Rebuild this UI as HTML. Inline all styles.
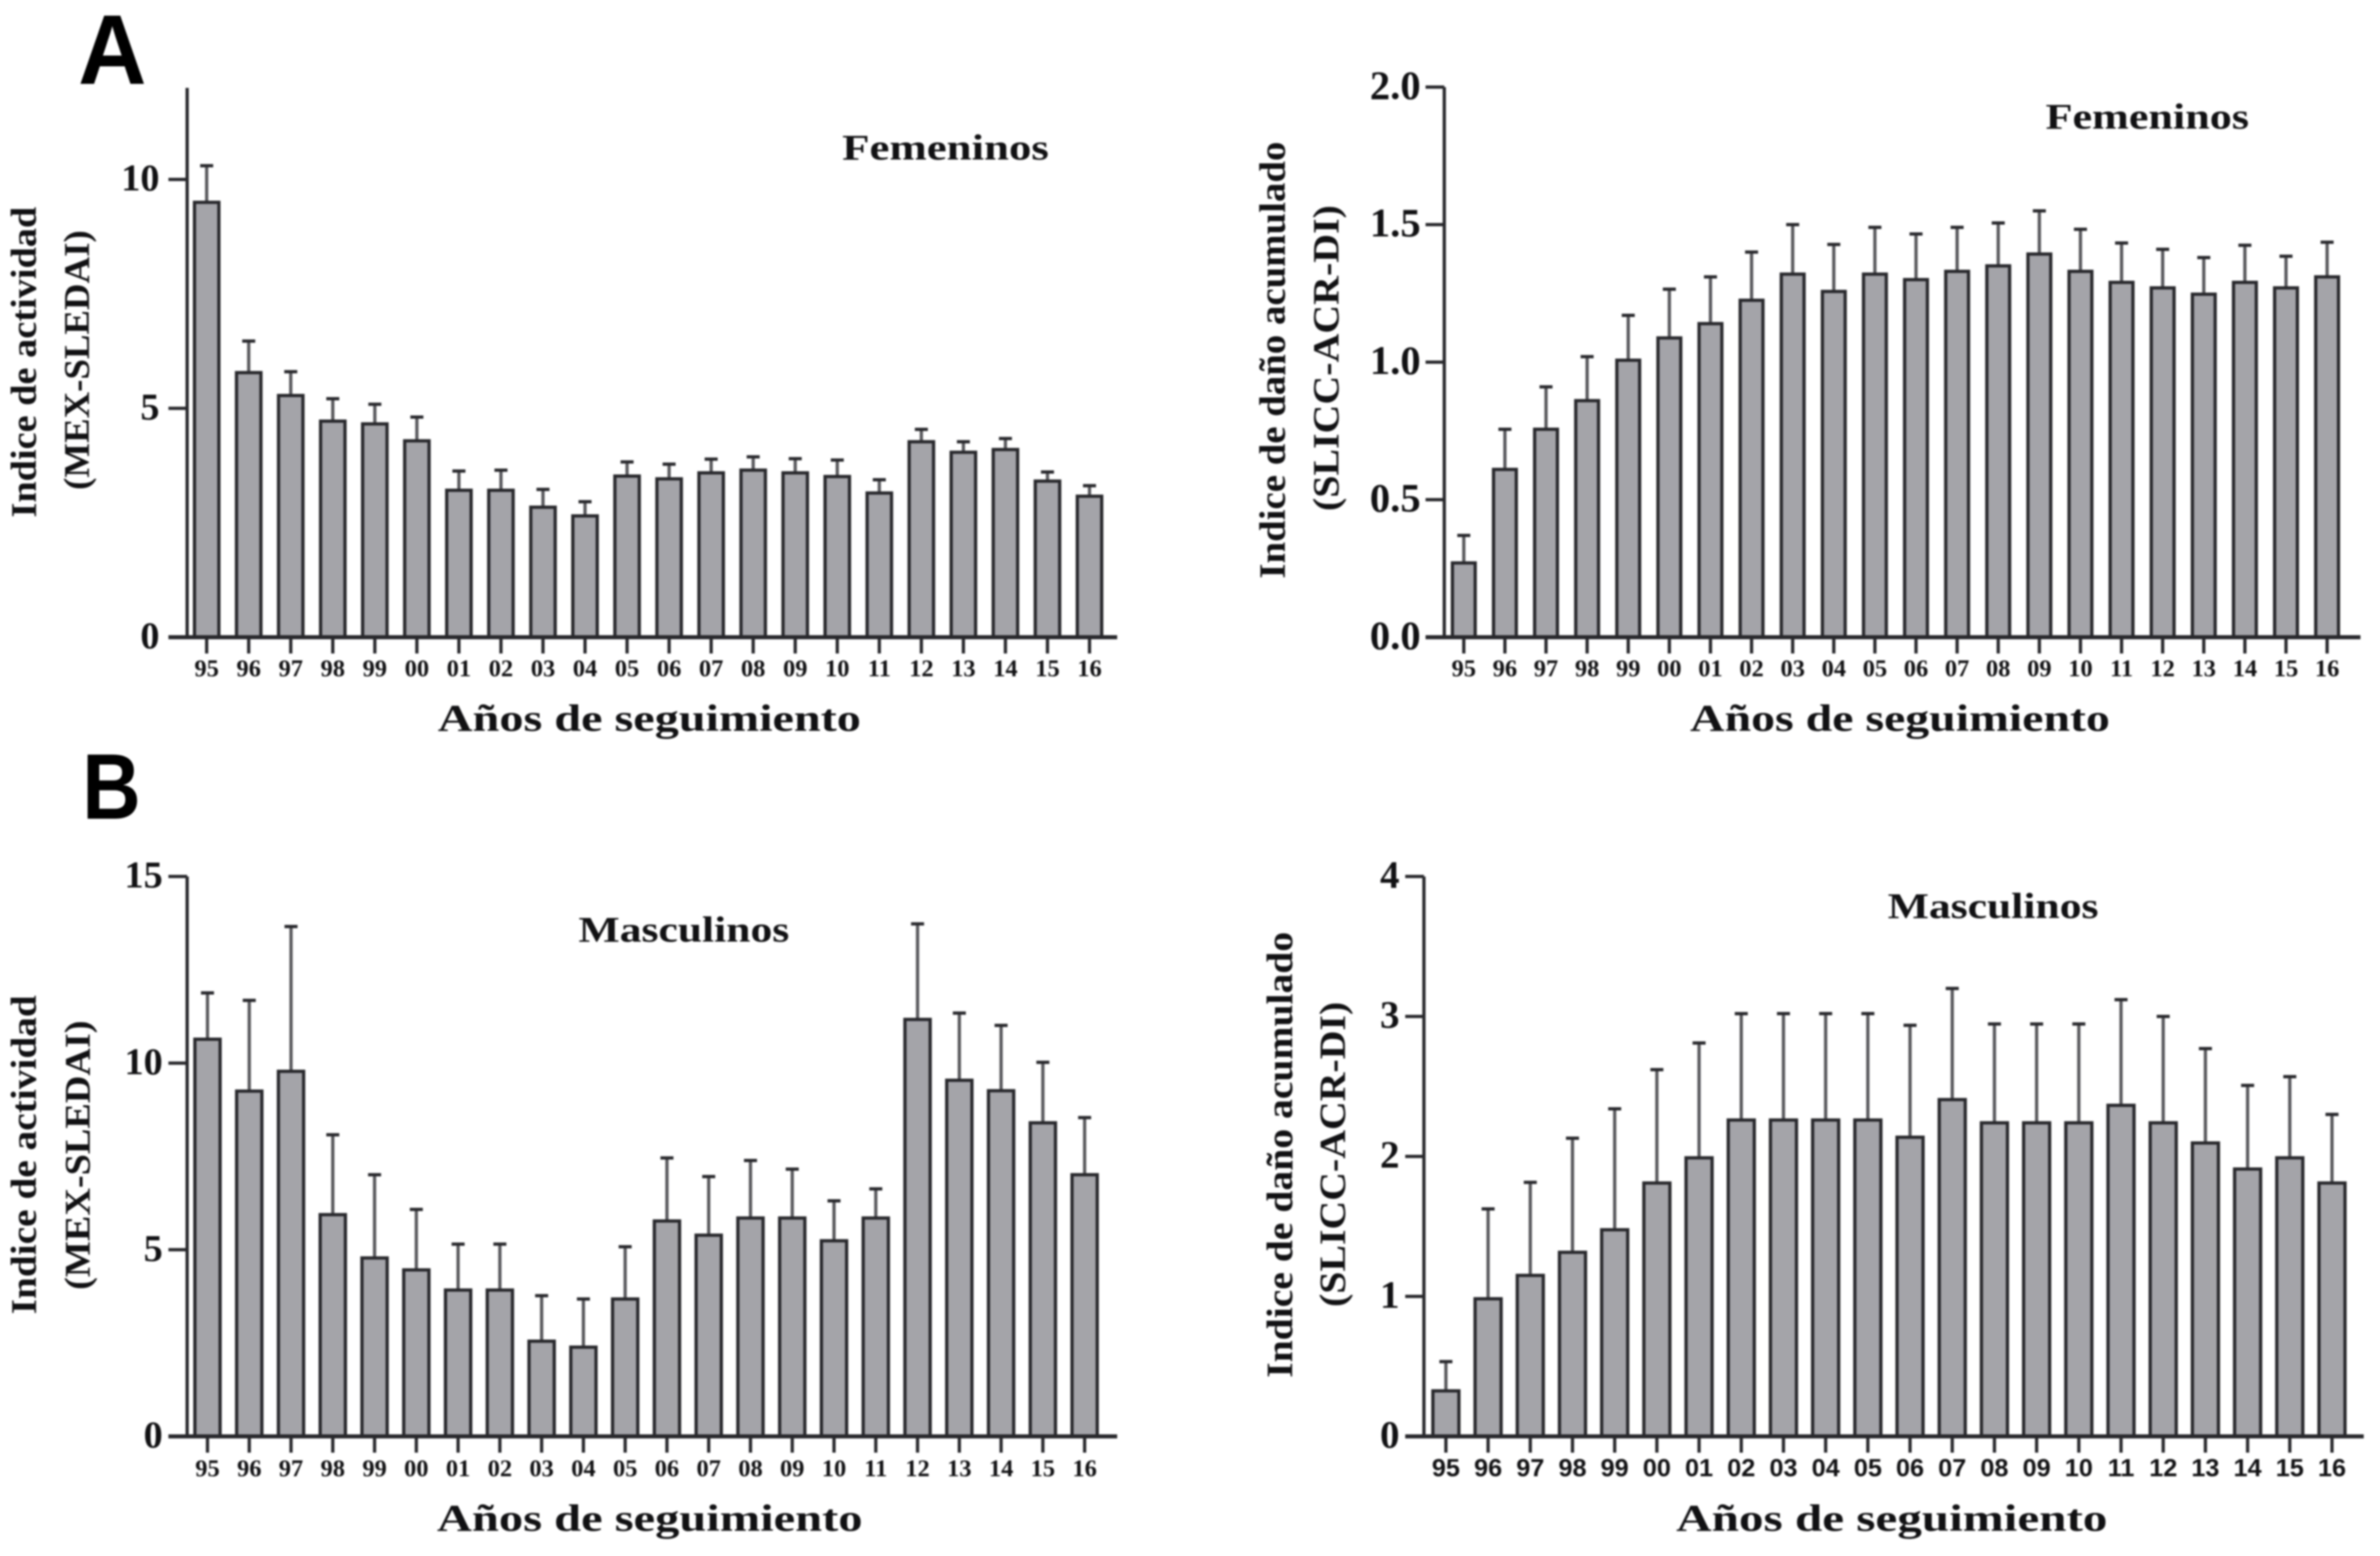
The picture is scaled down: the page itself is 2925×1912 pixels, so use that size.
<!DOCTYPE html>
<html lang="es">
<head>
<meta charset="utf-8">
<title>Indice de actividad y daño acumulado por años de seguimiento</title>
<style>
  html, body { margin: 0; padding: 0; background: #ffffff; }
  body { width: 2925px; height: 1912px; overflow: hidden; }
  svg { display: block; filter: blur(1px); }
  text { font-family: "Liberation Serif", serif; font-weight: bold; fill: #111113; }
  .panel-letter { font-family: "Liberation Sans", sans-serif; fill: #000; }
</style>
</head>
<body>
<svg id="figure" xmlns="http://www.w3.org/2000/svg" width="2925" height="1912" viewBox="0 0 2925 1912">
  <rect x="0" y="0" width="2925" height="1912" fill="#ffffff"/>

  <text class="panel-letter" x="96" y="103" font-size="122" textLength="84" lengthAdjust="spacingAndGlyphs">A</text>
  <text class="panel-letter" x="101" y="1006" font-size="114" textLength="72" lengthAdjust="spacingAndGlyphs">B</text>

  <g id="chart-fem-activity">
    <text x="1035" y="196" font-size="44" textLength="254" lengthAdjust="spacingAndGlyphs">Femeninos</text>
    <text transform="translate(44,636) rotate(-90)" font-size="44" textLength="382" lengthAdjust="spacingAndGlyphs">Indice de actividad</text>
    <text transform="translate(109,602) rotate(-90)" font-size="44" textLength="319" lengthAdjust="spacingAndGlyphs">(MEX-SLEDAI)</text>
    <text x="538" y="898" font-size="47" textLength="520" lengthAdjust="spacingAndGlyphs">Años de seguimiento</text>
  </g>

  <g id="chart-fem-damage">
    <text x="2514" y="158" font-size="44" textLength="250" lengthAdjust="spacingAndGlyphs">Femeninos</text>
    <text transform="translate(1579,711) rotate(-90)" font-size="46" textLength="537" lengthAdjust="spacingAndGlyphs">Indice de daño acumulado</text>
    <text transform="translate(1645,628) rotate(-90)" font-size="46" textLength="376" lengthAdjust="spacingAndGlyphs">(SLICC-ACR-DI)</text>
    <text x="2077" y="898" font-size="47" textLength="516" lengthAdjust="spacingAndGlyphs">Años de seguimiento</text>
  </g>

  <g id="chart-masc-activity">
    <text x="711" y="1157" font-size="44" textLength="259" lengthAdjust="spacingAndGlyphs">Masculinos</text>
    <text transform="translate(44,1615) rotate(-90)" font-size="44" textLength="392" lengthAdjust="spacingAndGlyphs">Indice de actividad</text>
    <text transform="translate(110,1585) rotate(-90)" font-size="44" textLength="331" lengthAdjust="spacingAndGlyphs">(MEX-SLEDAI)</text>
    <text x="537" y="1881" font-size="47" textLength="523" lengthAdjust="spacingAndGlyphs">Años de seguimiento</text>
  </g>

  <g id="chart-masc-damage">
    <text x="2320" y="1128" font-size="44" textLength="259" lengthAdjust="spacingAndGlyphs">Masculinos</text>
    <text transform="translate(1588,1693) rotate(-90)" font-size="46" textLength="548" lengthAdjust="spacingAndGlyphs">Indice de daño acumulado</text>
    <text transform="translate(1653,1606) rotate(-90)" font-size="46" textLength="375" lengthAdjust="spacingAndGlyphs">(SLICC-ACR-DI)</text>
    <text x="2060" y="1881" font-size="47" textLength="530" lengthAdjust="spacingAndGlyphs">Años de seguimiento</text>
  </g>
</svg>

<script>
const categories = ['95','96','97','98','99','00','01','02','03','04','05','06','07','08','09','10','11','12','13','14','15','16'];

const femActivityMeans = [9.5,5.78,5.28,4.72,4.66,4.29,3.21,3.21,2.84,2.65,3.52,3.46,3.59,3.65,3.59,3.51,3.15,4.27,4.04,4.1,3.41,3.08];
const femActivityUpper = [10.3,6.47,5.8,5.21,5.09,4.81,3.63,3.65,3.23,2.96,3.83,3.78,3.89,3.94,3.9,3.87,3.44,4.54,4.27,4.34,3.61,3.31];
const femActivityTicks = [0,5,10];
const femActivityTickLabels = ['0','5','10'];

const femDamageMeans = [0.27,0.61,0.756,0.86,1.007,1.088,1.14,1.225,1.32,1.257,1.32,1.3,1.33,1.35,1.393,1.33,1.29,1.27,1.247,1.29,1.27,1.31];
const femDamageUpper = [0.37,0.756,0.91,1.02,1.17,1.265,1.31,1.4,1.5,1.428,1.49,1.466,1.49,1.506,1.55,1.483,1.433,1.41,1.38,1.425,1.385,1.436];
const femDamageTicks = [0,0.5,1,1.5,2];
const femDamageTickLabels = ['0.0','0.5','1.0','1.5','2.0'];

const mascActivityMeans = [10.64,9.25,9.78,5.94,4.78,4.46,3.92,3.92,2.55,2.39,3.68,5.77,5.39,5.85,5.85,5.24,5.85,11.17,9.54,9.26,8.4,7.01];
const mascActivityUpper = [11.88,11.68,13.66,8.08,7.01,6.08,5.15,5.15,3.77,3.68,5.08,7.46,6.96,7.39,7.16,6.31,6.63,13.73,11.34,11.01,10.02,8.54];
const mascActivityTicks = [0,5,10,15];
const mascActivityTickLabels = ['0','5','10','15'];

const mascDamageMeans = [0.325,0.983,1.15,1.315,1.476,1.81,1.99,2.26,2.26,2.26,2.26,2.137,2.406,2.24,2.24,2.24,2.365,2.24,2.096,1.91,1.99,1.81];
const mascDamageUpper = [0.534,1.625,1.815,2.13,2.34,2.62,2.81,3.02,3.02,3.02,3.02,2.937,3.2,2.946,2.946,2.946,3.12,3.0,2.77,2.507,2.57,2.3];
const mascDamageTicks = [0,1,2,3,4];
const mascDamageTickLabels = ['0','1','2','3','4'];

const SVG_NS = 'http://www.w3.org/2000/svg';
const INK = '#28282c';
const STEM = '#58585c';
const FILL = '#a4a4a9';

function shape(tag, parent, props) {
  const node = document.createElementNS(SVG_NS, tag);
  Object.keys(props).forEach(function (k) { node.setAttribute(k, props[k]); });
  parent.appendChild(node);
  return node;
}

function drawChart(groupId, means, upper, ticks, tickLabels, cfg) {
  const group = document.getElementById(groupId);
  const maxVal = cfg.domainMax;
  const yScale = function (v) { return cfg.y0 - (v / maxVal) * (cfg.y0 - cfg.yTop); };
  const xScale = function (i) { return cfg.xFirst + i * (cfg.xLast - cfg.xFirst) / (categories.length - 1); };

  means.forEach(function (m, i) {
    const cx = xScale(i);
    const top = yScale(m);
    const errTop = yScale(upper[i]);

    const stem = shape('line', group, { x1: cx, x2: cx, y1: top, y2: errTop, stroke: STEM, 'stroke-width': 4 });
    
    

    const cap = shape('line', group, { x1: cx - 8, x2: cx + 8, y1: errTop, y2: errTop, stroke: INK, 'stroke-width': 4 });
    
    

    const bar = shape('rect', group, { x: cx - cfg.barW / 2, y: top, width: cfg.barW, height: cfg.y0 - top, fill: FILL, stroke: INK, 'stroke-width': 4 });
    
    

    const tick = shape('line', group, { x1: cx, x2: cx, y1: cfg.y0, y2: cfg.y0 + 20, stroke: INK, 'stroke-width': 4 });
    
    

    const label = shape('text', group, { x: cx, y: cfg.y0 + cfg.xLabelDy, 'text-anchor': 'middle', 'font-size': cfg.xFont });
    
    
    if (cfg.xSans) label.style.fontFamily = '"Liberation Sans", sans-serif';
    label.textContent = categories[i];
  });

  const yAxis = shape('line', group, { x1: cfg.axisX, x2: cfg.axisX, y1: cfg.yTop, y2: cfg.y0 + 2, stroke: INK, 'stroke-width': 4 });
  
  

  const xAxis = shape('line', group, { x1: cfg.axisX - 23, x2: cfg.xEnd, y1: cfg.y0, y2: cfg.y0, stroke: INK, 'stroke-width': 5 });
  
  

  ticks.forEach(function (t, i) {
    const y = yScale(t);
    const tick = shape('line', group, { x1: cfg.axisX - 23, x2: cfg.axisX, y1: y, y2: y, stroke: INK, 'stroke-width': 4 });
    
    

    const label = shape('text', group, { x: cfg.labelRight, y: y + cfg.yFont * 0.29, 'text-anchor': 'end', 'font-size': cfg.yFont });
    
    
    label.textContent = tickLabels[i];
  });
}

drawChart('chart-fem-activity', femActivityMeans, femActivityUpper, femActivityTicks, femActivityTickLabels,
  { y0: 783, yTop: 108, domainMax: 12, axisX: 230, xFirst: 254, xLast: 1339, xEnd: 1373, barW: 30, xFont: 30, xLabelDy: 48, yFont: 47, labelRight: 196 });

drawChart('chart-fem-damage', femDamageMeans, femDamageUpper, femDamageTicks, femDamageTickLabels,
  { y0: 783, yTop: 107, domainMax: 2, axisX: 1775, xFirst: 1799, xLast: 2860, xEnd: 2901, barW: 28, xFont: 30, xLabelDy: 48, yFont: 50, labelRight: 1746 });

drawChart('chart-masc-activity', mascActivityMeans, mascActivityUpper, mascActivityTicks, mascActivityTickLabels,
  { y0: 1765, yTop: 1077, domainMax: 15, axisX: 230, xFirst: 255, xLast: 1333, xEnd: 1373, barW: 31, xFont: 30, xLabelDy: 49, yFont: 47, labelRight: 200 });

drawChart('chart-masc-damage', mascDamageMeans, mascDamageUpper, mascDamageTicks, mascDamageTickLabels,
  { y0: 1765, yTop: 1077, domainMax: 4, axisX: 1750, xFirst: 1777, xLast: 2866, xEnd: 2905, barW: 32, xFont: 31, xLabelDy: 49, yFont: 48, labelRight: 1720, xSans: true });
</script>
</body>
</html>
